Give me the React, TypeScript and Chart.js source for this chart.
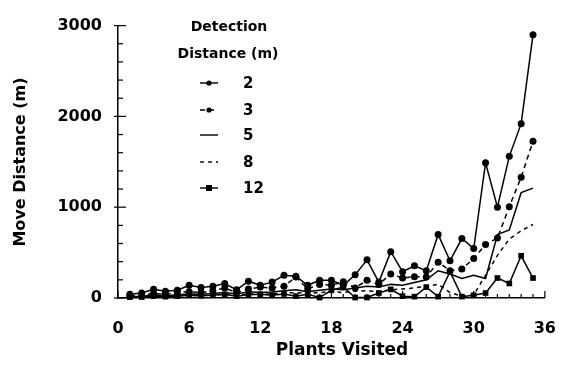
import React, { useEffect, useRef } from "react";
import { Chart, registerables } from "chart.js";

Chart.register(...registerables);

const plantsVisited = [1,2,3,4,5,6,7,8,9,10,11,12,13,14,15,16,17,18,19,20,21,22,23,24,25,26,27,28,29,30,31,32,33,34,35];
const detectionLabels = ["2", "3", "5", "8", "12"];
const move2 = [40,55,95,75,85,140,115,130,160,90,185,140,175,250,240,140,195,195,140,255,420,175,510,290,355,300,700,410,655,545,1490,1000,1560,1920,2900];
const move3 = [20,30,50,40,60,70,60,80,110,60,100,120,110,130,230,100,150,140,180,110,195,150,265,220,235,230,395,300,320,435,590,660,1005,1330,1725];
const move5 = [15,20,30,25,35,45,40,50,60,45,70,60,65,80,90,70,85,100,90,110,130,120,150,140,170,200,300,265,215,250,215,700,750,1160,1210];
const move8 = [10,15,20,15,25,30,25,35,40,30,45,40,45,55,60,50,60,70,60,75,80,70,90,100,110,130,150,60,20,35,250,470,650,740,810];
const move12 = [10,10,20,15,20,30,25,30,40,20,35,40,30,45,20,40,5,85,120,5,5,55,95,20,15,120,15,290,15,30,55,220,160,465,220];
const xTickValues = [0, 6, 12, 18, 24, 30, 36];
const yTickValues = [0, 1000, 2000, 3000];

const FONT = "'DejaVu Sans', sans-serif";

const toPoints = (vals: number[]) => plantsVisited.map((x, i) => ({ x, y: vals[i] }));

const styles = [
  { dash: [] as number[], point: "circle", r: 3.5 },
  { dash: [5, 4], point: "circle", r: 3.5 },
  { dash: [] as number[], point: "circle", r: 0 },
  { dash: [4, 4], point: "circle", r: 0 },
  { dash: [] as number[], point: "rect", r: 4 },
];

const tickPlugin = {
  id: "inwardTicks",
  afterDraw(chart: any) {
    const ctx = chart.ctx;
    const xs = chart.scales.x;
    const ys = chart.scales.y;
    const area = chart.chartArea;
    ctx.save();
    ctx.strokeStyle = "#000";
    ctx.lineWidth = 1.2;
    for (let v = 0; v <= 36; v++) {
      const px = xs.getPixelForValue(v);
      const len = v % 6 === 0 ? 7 : 4;
      ctx.beginPath();
      ctx.moveTo(px, area.bottom);
      ctx.lineTo(px, area.bottom - len);
      ctx.stroke();
    }
    for (let v = 0; v <= 3000; v += 200) {
      const py = ys.getPixelForValue(v);
      const major = v % 1000 === 0;
      ctx.beginPath();
      ctx.moveTo(area.left - (major ? 4 : 0), py);
      ctx.lineTo(area.left + (major ? 8 : 5), py);
      ctx.stroke();
    }
    ctx.restore();
  },
};

const textPlugin = {
  id: "texts",
  afterDraw(chart: any) {
    const ctx = chart.ctx;
    const area = chart.chartArea;
    ctx.save();
    ctx.fillStyle = "#000";
    ctx.font = `bold 17px ${FONT}`;
    ctx.textAlign = "center";
    ctx.textBaseline = "middle";
    ctx.fillText("Plants Visited", 342, 351);
    ctx.translate(21, 162);
    ctx.rotate(-Math.PI / 2);
    ctx.font = `bold 16px ${FONT}`;
    ctx.fillText("Move Distance (m)", 0, 0);
    ctx.restore();

    // legend
    ctx.save();
    ctx.fillStyle = "#000";
    ctx.font = `bold 14px ${FONT}`;
    ctx.textAlign = "center";
    ctx.textBaseline = "middle";
    ctx.fillText("Detection", 229, 27);
    ctx.fillText("Distance (m)", 228, 54);
    ctx.textAlign = "left";
    ctx.font = `bold 15px ${FONT}`;
    const rows = [83, 110, 135, 162, 188];
    chart.data.datasets.forEach((ds: any, i: number) => {
      const y = rows[i];
      ctx.strokeStyle = "#000";
      ctx.lineWidth = 1.4;
      ctx.setLineDash(ds.borderDash || []);
      ctx.beginPath();
      ctx.moveTo(200, y);
      ctx.lineTo(218, y);
      ctx.stroke();
      ctx.setLineDash([]);
      if (ds.pointRadius > 0) {
        ctx.beginPath();
        if (ds.pointStyle === "rect") ctx.rect(206, y - 3, 6, 6);
        else ctx.arc(209, y, 2.6, 0, Math.PI * 2);
        ctx.fill();
      }
      ctx.fillText(ds.label, 243, y + 1);
    });
    ctx.restore();
  },
};

export default function App() {
  const ref = useRef<HTMLCanvasElement>(null);
  useEffect(() => {
    if (!ref.current) return;
    const series = [move2, move3, move5, move8, move12];
    const chart = new Chart(ref.current, {
      type: "line",
      data: {
        datasets: series.map((vals, i) => ({
          label: detectionLabels[i],
          data: toPoints(vals),
          borderColor: "#000",
          backgroundColor: "#000",
          borderWidth: 1.5,
          borderDash: styles[i].dash,
          pointStyle: styles[i].point as any,
          pointRadius: styles[i].r,
          pointBackgroundColor: "#000",
          pointBorderColor: "#000",
          pointBorderWidth: 0,
          tension: 0,
          clip: false as any,
        })),
      },
      options: {
        animation: false,
        responsive: false,
        maintainAspectRatio: false,
        layout: { padding: { left: 0, right: 12, top: 19, bottom: 0 } },
        plugins: { legend: { display: false }, tooltip: { enabled: false } },
        scales: {
          x: {
            type: "linear",
            min: 0,
            max: 36,
            afterFit: (s: any) => { s.height = 67; },
            afterBuildTicks: (s: any) => { s.ticks = xTickValues.map((v) => ({ value: v })); },
            grid: { display: false, drawTicks: false },
            border: { display: true, color: "#000", width: 1.5 },
            ticks: { color: "#000", font: { family: FONT, size: 16, weight: "bold" }, padding: 21, maxRotation: 0, autoSkip: false, callback: (v: any) => String(v) },
          },
          y: {
            type: "linear",
            min: 0,
            max: 3000,
            afterFit: (s: any) => { s.width = 118; },
            afterBuildTicks: (s: any) => { s.ticks = yTickValues.map((v) => ({ value: v })); },
            grid: { display: false, drawTicks: false },
            border: { display: true, color: "#000", width: 1.5 },
            ticks: { color: "#000", font: { family: FONT, size: 16, weight: "bold" }, padding: 16, autoSkip: false, callback: (v: any) => String(v) },
          },
        },
      },
      plugins: [tickPlugin, textPlugin],
    });
    return () => chart.destroy();
  }, []);
  return (
    <div style={{ position: "fixed", left: 0, top: 0, width: 577, height: 365, background: "#fff" }}>
      <canvas ref={ref} width={577} height={365} style={{ width: 577, height: 365, display: "block" }} />
    </div>
  );
}
